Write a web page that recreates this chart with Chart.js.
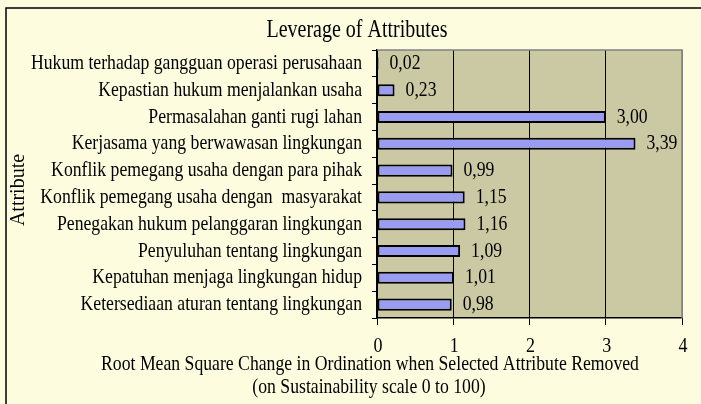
<!DOCTYPE html>
<html>
<head>
<meta charset="utf-8">
<script src="https://cdn.jsdelivr.net/npm/chart.js@4.4.1/dist/chart.umd.min.js"></script>
<style>
html,body{margin:0;padding:0;background:#fdfcdf;}
#wrap{width:701px;height:404px;position:relative;}
</style>
</head>
<body>
<div id="wrap"><canvas id="c" width="701" height="404"></canvas></div>
<script>
const categories = [
  "Hukum terhadap gangguan operasi perusahaan",
  "Kepastian hukum menjalankan usaha",
  "Permasalahan ganti rugi lahan",
  "Kerjasama yang berwawasan lingkungan",
  "Konflik pemegang usaha dengan para pihak",
  "Konflik pemegang usaha dengan  masyarakat",
  "Penegakan hukum pelanggaran lingkungan",
  "Penyuluhan tentang lingkungan",
  "Kepatuhan menjaga lingkungan hidup",
  "Ketersediaan aturan tentang lingkungan"
];
const values = [0.02, 0.23, 3.00, 3.39, 0.99, 1.15, 1.16, 1.09, 1.01, 0.98];
const valueLabels = ["0,02", "0,23", "3,00", "3,39", "0,99", "1,15", "1,16", "1,09", "1,01", "0,98"];
const xTicks = [0, 1, 2, 3, 4];
const chartTitle = "Leverage of Attributes";
const yTitle = "Attribute";
const xTitleLines = ["Root Mean Square Change in Ordination when Selected Attribute Removed", "(on Sustainability scale 0 to 100)"];

const FONT = "'Liberation Serif', 'Times New Roman', serif";
const FS = 17.7;
const SY = 1.22; // vertical stretch of the text in the original

function stretchedText(ctx, text, x, y, align, size) {
  ctx.save();
  ctx.font = size + "px " + FONT;
  ctx.textAlign = align;
  ctx.textBaseline = 'middle';
  ctx.translate(x, y);
  ctx.scale(1, SY);
  ctx.fillText(text, 0, 0);
  ctx.restore();
}

const decor = {
  id: 'decor',
  beforeDraw(chart) {
    const ctx = chart.ctx, a = chart.chartArea;
    ctx.save();
    ctx.fillStyle = '#fdfcdf';
    ctx.fillRect(0, 0, chart.width, chart.height);
    ctx.strokeStyle = '#000';
    ctx.lineWidth = 1.5;
    ctx.beginPath();
    ctx.moveTo(6, chart.height);
    ctx.lineTo(6, 8);
    ctx.lineTo(chart.width, 8);
    ctx.stroke();
    ctx.fillStyle = '#cbc9a3';
    ctx.fillRect(a.left, a.top, a.right - a.left, a.bottom - a.top);
    ctx.restore();
  },
  afterDatasetsDraw(chart) {
    const ctx = chart.ctx, a = chart.chartArea;
    const xs = chart.scales.x, ys = chart.scales.y;
    ctx.save();
    ctx.strokeStyle = '#808080';
    ctx.lineWidth = 1.5;
    ctx.beginPath();
    ctx.moveTo(a.left, a.top);
    ctx.lineTo(a.right, a.top);
    ctx.lineTo(a.right, a.bottom);
    ctx.stroke();
    ctx.fillStyle = '#000';
    // category labels
    categories.forEach((c, i) => {
      stretchedText(ctx, c, a.left - 15, ys.getPixelForValue(i), 'right', FS);
    });
    // x tick labels
    xTicks.forEach(v => {
      stretchedText(ctx, String(v), xs.getPixelForValue(v) + 1, 346, 'center', 18);
    });
    // value labels
    const meta = chart.getDatasetMeta(0);
    meta.data.forEach((bar, i) => {
      stretchedText(ctx, valueLabels[i], bar.x + 11, bar.y, 'left', FS);
    });
    // chart title
    stretchedText(ctx, chartTitle, 357, 31, 'center', 20);
    // x title
    stretchedText(ctx, xTitleLines[0], 370, 364, 'center', FS);
    stretchedText(ctx, xTitleLines[1], 369, 387, 'center', FS);
    // y title
    ctx.save();
    ctx.translate(18, 190);
    ctx.rotate(-Math.PI / 2);
    ctx.font = "20px " + FONT;
    ctx.textAlign = 'center';
    ctx.textBaseline = 'middle';
    ctx.scale(1, 1.1);
    ctx.fillText(yTitle, 0, 0);
    ctx.restore();
    ctx.restore();
  }
};

new Chart(document.getElementById('c'), {
  type: 'bar',
  data: {
    labels: categories,
    datasets: [{
      data: values,
      backgroundColor: '#9a9cf2',
      borderColor: '#000',
      borderWidth: 2,
      borderSkipped: false,
      barPercentage: 0.45,
      categoryPercentage: 1.0
    }]
  },
  options: {
    indexAxis: 'y',
    responsive: false,
    animation: false,
    devicePixelRatio: 1,
    layout: { padding: { left: 0, top: 50, right: 19, bottom: 0 } },
    plugins: { legend: { display: false }, title: { display: false }, tooltip: { enabled: false } },
    scales: {
      x: {
        min: 0, max: 4,
        afterBuildTicks(scale) { scale.ticks = xTicks.map(v => ({ value: v })); },
        afterFit(scale) { scale.height = 86; },
        ticks: { display: false },
        grid: {
          color: c => (c.tick && c.tick.value === 4) ? '#808080' : '#000',
          lineWidth: 1,
          tickColor: '#000',
          tickLength: 7,
          drawTicks: true
        },
        border: { display: true, color: '#000', width: 1.5 }
      },
      y: {
        afterFit(scale) { scale.width = 377; },
        ticks: { display: false, autoSkip: false },
        grid: { drawOnChartArea: false, drawTicks: true, tickLength: 5, color: '#000', offset: true },
        border: { display: true, color: '#000', width: 1.5 }
      }
    }
  },
  plugins: [decor]
});
</script>
</body>
</html>
